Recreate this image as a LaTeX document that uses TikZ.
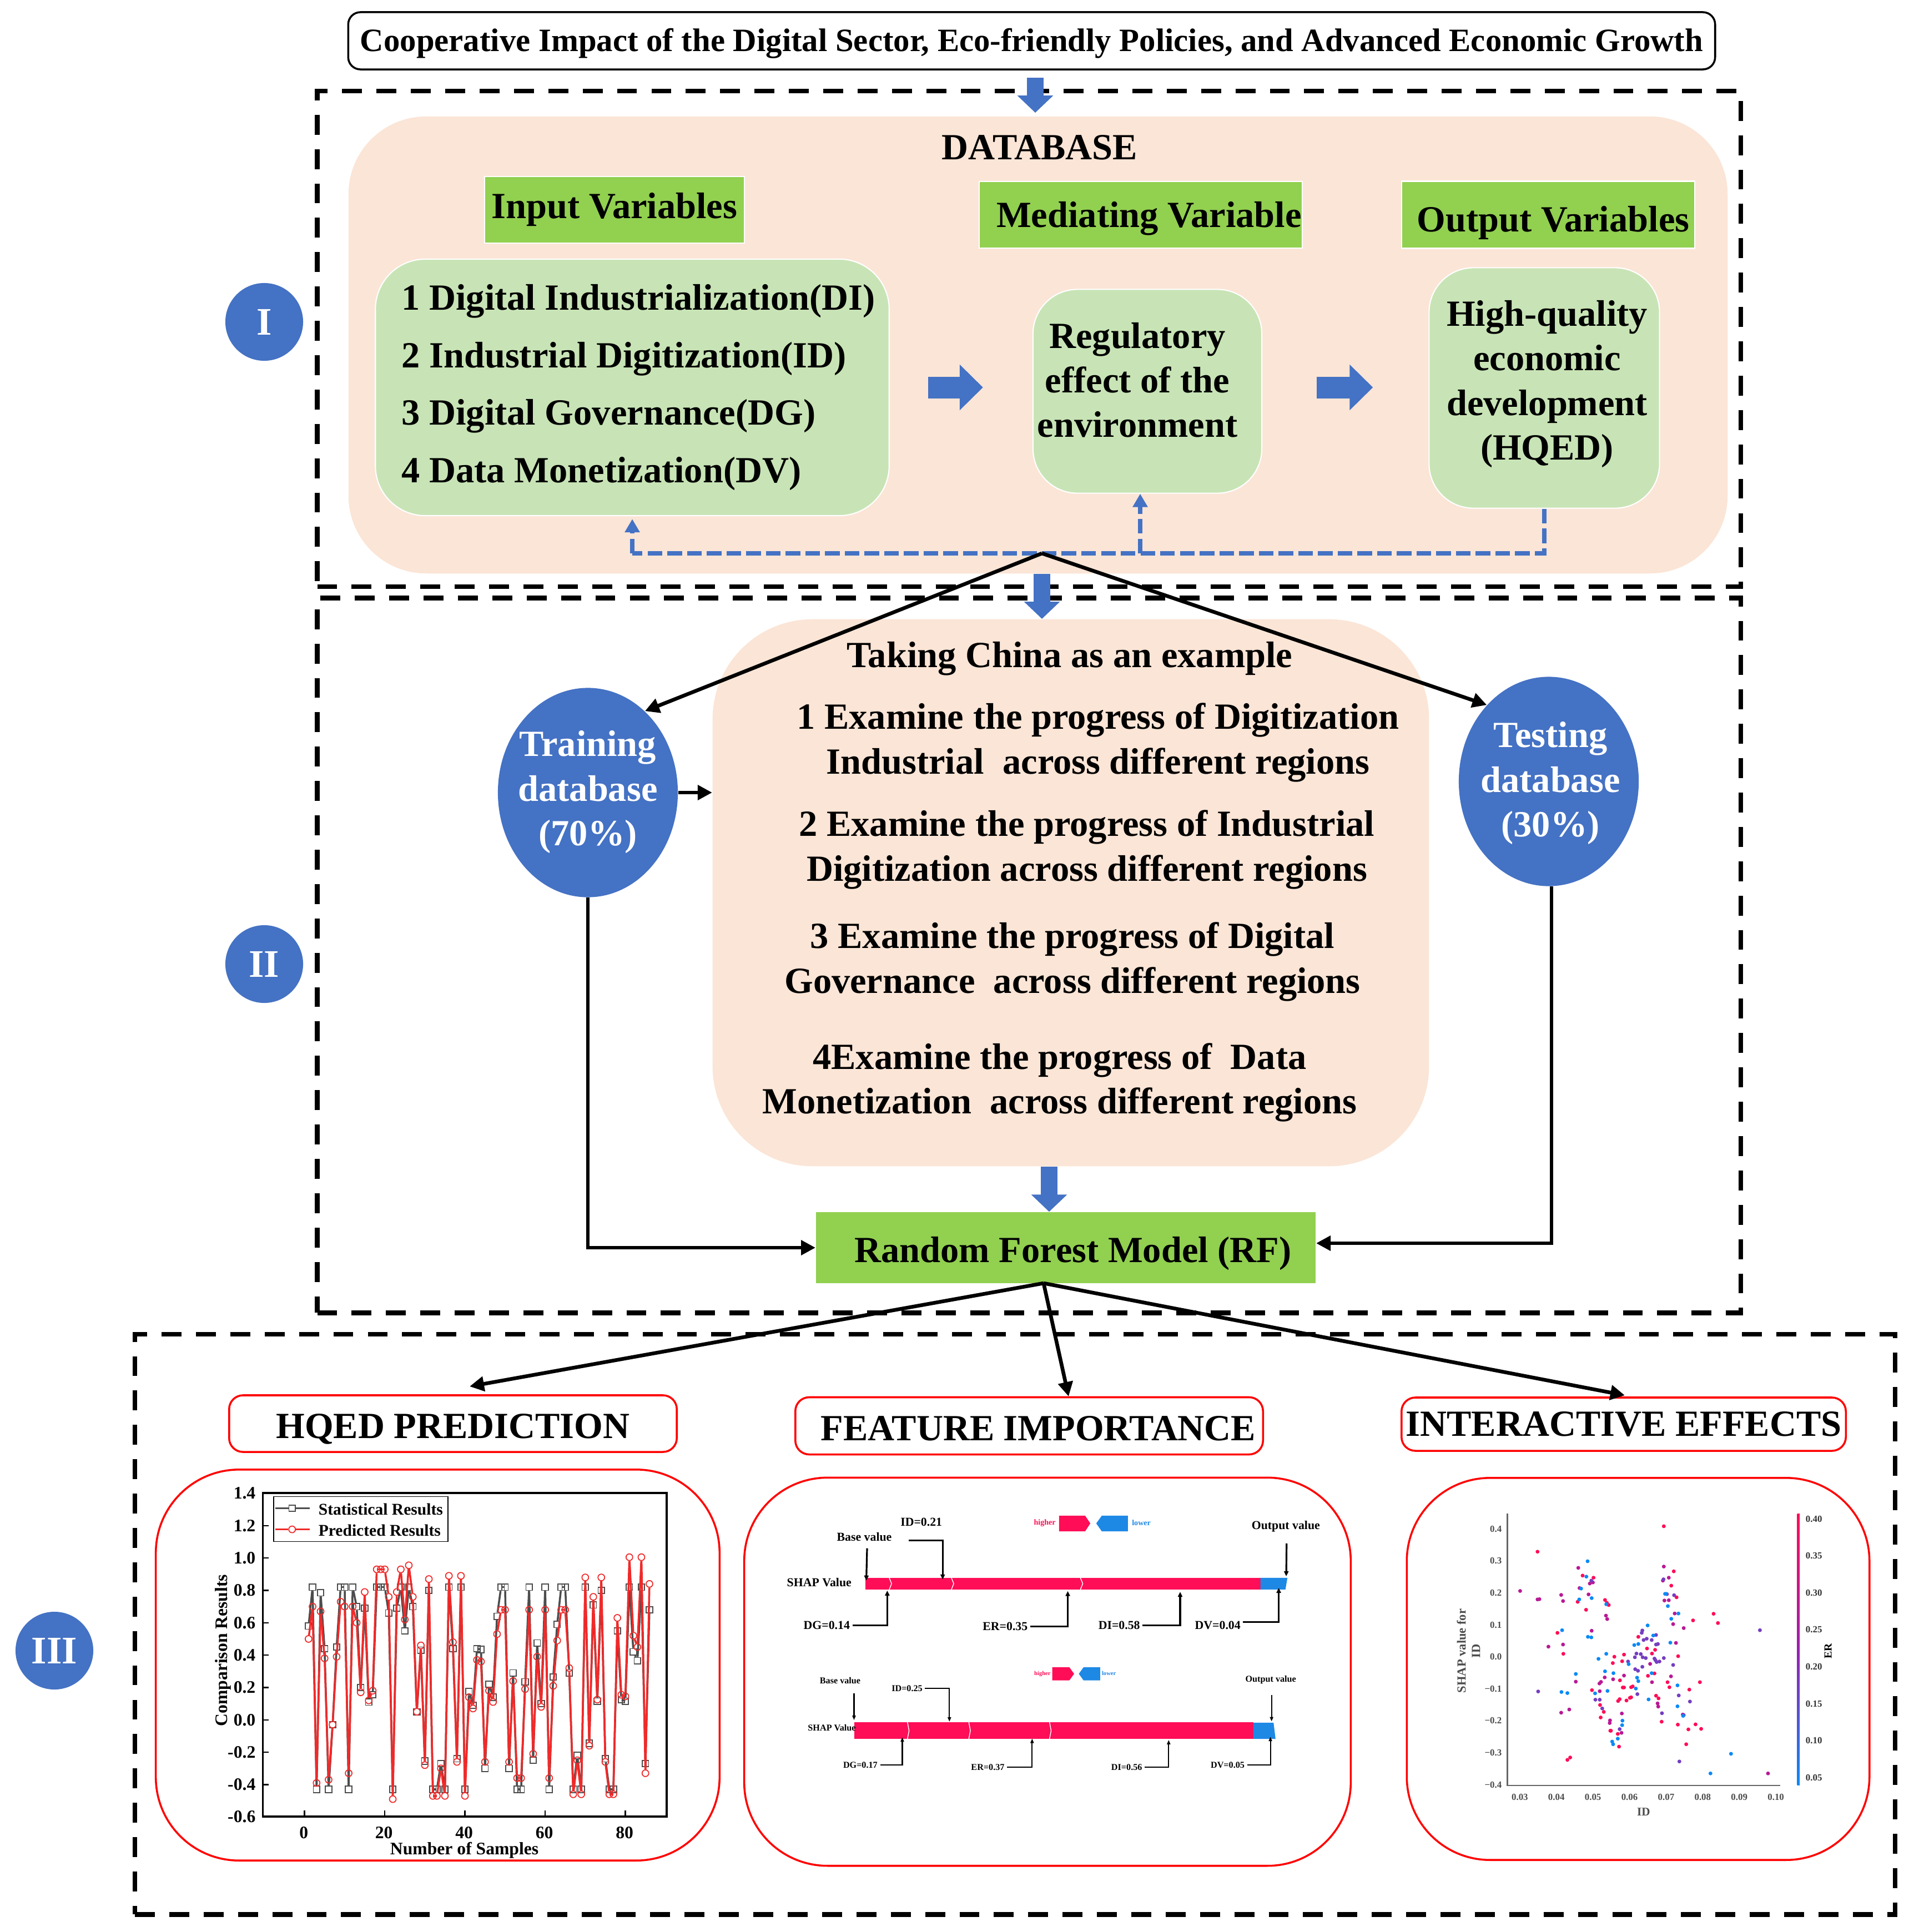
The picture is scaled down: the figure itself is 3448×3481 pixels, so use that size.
\documentclass[tikz,border=0pt]{standalone}
\usepackage{fontspec}
\setmainfont{Liberation Serif}
\usetikzlibrary{arrows.meta,shapes.geometric}

\definecolor{peach}{HTML}{FBE5D6}
\definecolor{leaf}{HTML}{C8E4B6}
\definecolor{grass}{HTML}{92D050}
\definecolor{office}{HTML}{4472C4}
\definecolor{shapred}{HTML}{FF0D57}
\definecolor{shapblue}{HTML}{1E88E5}
\definecolor{dotblue}{HTML}{0A8AF5}
\definecolor{midpurple}{HTML}{9A1FB0}
\definecolor{chartred}{HTML}{F02A2A}

\newcommand{\bigbf}{\fontsize{18.9pt}{22.8pt}\selectfont\bfseries}

\tikzset{
  frame/.style={draw,line width=2.4pt,dash pattern=on 10.2pt off 7.4pt,inner sep=0},
  peachbox/.style={fill=peach,rounded corners=1.4cm,inner sep=0},
  greenhead/.style={fill=grass,draw=white,line width=.6pt,inner sep=0,font=\bigbf},
  leafbox/.style={fill=leaf,draw=white,line width=.6pt,inner sep=0,font=\bigbf},
  lbl/.style={inner sep=0,font=\bigbf,align=center},
  blob/.style={ellipse,fill=office,inner sep=0},
  tag/.style={circle,fill=office,text=white,inner sep=0,minimum size=1.4cm,font=\fontsize{20pt}{20pt}\selectfont\bfseries},
  redhead/.style={draw=red,line width=1pt,rounded corners=.25cm,inner sep=0,font=\bigbf},
  panel/.style={draw=red,line width=1pt,rounded corners=1.5cm,inner sep=0},
  lowtext/.style={text height=.6cm,text depth=.08cm},
  blockarrow/.style={office,line width=.3cm,-{Triangle[length=.31cm,width=.63cm]}},
  widearrow/.style={office,line width=.39cm,-{Triangle[length=.42cm,width=.8cm]}},
  blackarrow/.style={line width=1.9pt,-{Triangle[length=.26cm,width=.26cm]}},
  bluedash/.style={office,line width=2.4pt,dash pattern=on 7.5pt off 2.6pt},
  bluetip/.style={bluedash,-{Triangle[length=.24cm,width=.26cm]}},
  statmark/.style={draw=black!70,line width=.5pt,inner sep=0,minimum size=.115cm},
  predmark/.style={circle,draw=chartred,line width=.5pt,inner sep=0,minimum size=.12cm},
  chartfont/.style={inner sep=0,font=\fontsize{9pt}{9pt}\selectfont\bfseries},
  shaplbl/.style={inner sep=0,font=\fontsize{6.2pt}{7pt}\selectfont\bfseries},
  shapsmall/.style={inner sep=0,font=\fontsize{4.6pt}{5pt}\selectfont\bfseries},
  shaparrow/.style={line width=.9pt,-{Triangle[length=.09cm,width=.08cm]}},
  shapthin/.style={line width=.6pt,-{Triangle[length=.08cm,width=.06cm]}},
  scatfont/.style={inner sep=0,text=black!70,font=\fontsize{4.8pt}{5pt}\selectfont\bfseries},
}

\begin{document}
\begin{tikzpicture}[x=.01cm,y=-.01cm]
  \useasboundingbox (0,0) rectangle (3448,3481);

  \node[draw,line width=1pt,rounded corners=.22cm,minimum width=24.61cm,minimum height=1.03cm,inner sep=0,text height=.5cm,text depth=.13cm,font=\fontsize{16.7pt}{18pt}\selectfont\bfseries] (title) at (1858.5,73.5) {Cooperative Impact of the Digital Sector, Eco-friendly Policies, and Advanced Economic Growth};

  \node[frame,minimum width=25.63cm,minimum height=8.93cm] (frameI) at (1853.8,610.5) {};
  \node[frame,minimum width=25.63cm,minimum height=12.87cm] (frameII) at (1853.8,1721.5) {};
  \node[frame,minimum width=31.69cm,minimum height=10.45cm] (frameIII) at (1828.5,2926.5) {};

  \node[tag] (tagI) at (476,580) {I};
  \node[tag] (tagII) at (476,1737) {II};
  \node[tag] (tagIII) at (98,2974) {III};

  % section I
  \node[peachbox,minimum width=24.83cm,minimum height=8.23cm] (db) at (1870,621.5) {};
  \node[lbl] (dbtext) at (1873,266) {DATABASE};

  \node[greenhead,minimum width=4.68cm,minimum height=1.2cm] (inhead) at (1107,378) {Input Variables};
  \node[greenhead,minimum width=5.81cm,minimum height=1.2cm,text height=.55cm,text depth=.1cm] (medhead) at (2055,387) {\hspace{.3cm}Mediating Variable};
  \node[greenhead,minimum width=5.28cm,minimum height=1.21cm] (outhead) at (2789,387) {};
  \node[lbl] (outtext) at (2798,402) {Output Variables};

  \node[leafbox,rounded corners=.9cm,minimum width=9.25cm,minimum height=4.62cm,align=left] (inbox) at (1139,698)
    {\hspace*{.22cm}1 Digital Industrialization(DI)\\[6.7pt]\hspace*{.22cm}2 Industrial Digitization(ID)\\[6.7pt]\hspace*{.22cm}3 Digital Governance(DG)\\[6.7pt]\hspace*{.22cm}4 Data Monetization(DV)};
  \node[leafbox,rounded corners=.8cm,minimum width=4.12cm,minimum height=3.67cm] (medbox) at (2067,705) {};
  \node[lbl] (medtext) at (2049,685) {Regulatory\\effect of the\\environment};
  \node[leafbox,rounded corners=.8cm,minimum width=4.15cm,minimum height=4.33cm] (outbox) at (2782,699) {};
  \node[lbl] (outlines) at (2787,692) {High-quality\\economic\\development\\(HQED)};

  \coordinate (dbapex) at (1877,997);

  \draw[widearrow,shorten <=.69cm,shorten >=.89cm] (inbox.east) -- (inbox.east -| medbox.west);
  \draw[widearrow,shorten <=.98cm,shorten >=1cm] (medbox.east |- inbox.east) -- (outbox.west |- inbox.east);

  \draw[bluedash] (outbox.south) -- (outbox.south |- dbapex) -- (inbox.south |- dbapex);
  \draw[bluetip] (inbox.south |- dbapex) -- ([yshift=-.05cm]inbox.south);
  \draw[bluetip] ([xshift=-.13cm]medbox.south |- dbapex) -- ([xshift=-.13cm]medbox.south);

  % section II
  \node[peachbox,rounded corners=1.8cm,minimum width=12.9cm,minimum height=9.85cm] (china) at (1929,1608.5) {};
  \node[lbl] (chinahead) at (1927,1187) {Taking China as an example};
  \node[lbl] (step1) at (1978,1338) {1 Examine the progress of Digitization\\Industrial\ \ across different regions};
  \node[lbl] (step2) at (1958,1531) {2 Examine the progress of Industrial\\Digitization across different regions};
  \node[lbl] (step3) at (1932,1733) {3 Examine the progress of Digital\\Governance\ \ across different regions};
  \node[lbl] (step4) at (1909,1950) {4Examine the progress of\ \ Data\\Monetization\ \ across different regions};

  \node[blob,minimum width=3.24cm,minimum height=3.77cm] (train) at (1059,1428) {};
  \node[lbl,text=white] (traintext) at (1059,1427) {Training\\database\\(70\%)};
  \node[blob,minimum width=3.24cm,minimum height=3.77cm] (test) at (2790,1408) {};
  \node[lbl,text=white] (testtext) at (2793,1411) {Testing\\database\\(30\%)};

  \node[fill=grass,minimum width=9cm,minimum height=1.28cm,inner sep=0,lowtext,font=\bigbf] (rf) at (1920,2248) {\hspace{.26cm}Random Forest Model (RF)};
  \coordinate (rfapex) at (1880,2312);

  \foreach \to in {train.55,test.129}
    \draw[blackarrow] (dbapex) -- (\to);
  \draw[blackarrow] (train.east) -- (train.east -| china.west);
  \draw[blackarrow] (train.south) |- (rf.west);
  \draw[blackarrow] ([xshift=.05cm]test.south) |- ([yshift=.08cm]rf.east);

  \draw[blockarrow,shorten <=.13cm,shorten >=.06cm] ([xshift=-.05cm]title.south -| db.north) -- ([xshift=-.05cm]db.north);
  \draw[blockarrow] (dbapex |- db.south) -- (dbapex |- china.north);
  \draw[blockarrow] ([xshift=-.3cm]rf.north |- china.south) -- ([xshift=-.3cm]rf.north);

  % section III
  \node[redhead,minimum width=8.06cm,minimum height=1.02cm,lowtext] (hqed) at (816,2565) {HQED PREDICTION};
  \node[redhead,minimum width=8.42cm,minimum height=1.03cm,lowtext] (feat) at (1854,2569) {\hspace{.33cm}FEATURE IMPORTANCE};
  \node[redhead,minimum width=8cm,minimum height=.96cm] (inter) at (2925,2566) {INTERACTIVE EFFECTS};

  \coordinate (hqedtop) at (846,2498);
  \coordinate (feattop) at (1925,2516);
  \coordinate (intertop) at (2927,2514);
  \foreach \to in {hqedtop,feattop,intertop}
    \draw[blackarrow] (rfapex) -- (\to);

  \node[panel,minimum width=10.15cm,minimum height=7.04cm] (panelA) at (788.5,3000) {};
  \node[panel,minimum width=10.92cm,minimum height=6.99cm] (panelB) at (1887,3012) {};
  \node[panel,minimum width=8.33cm,minimum height=6.88cm] (panelC) at (2951,3007) {};

  % line chart, in the units of its own crop
  \begin{scope}[shift={(249.4,2601)},x=.006997cm,y=-.005084cm]
    \draw[line width=1pt] (320,175) rectangle (1358,1322);
    \foreach \v in {1.4,1.2,1.0,0.8,0.6,0.4,0.2,0.0,-0.2,-0.4,-0.6}
      \draw[line width=.7pt] (320,{979-573.5*\v}) -- (335,{979-573.5*\v});
    \foreach \v in {0,20,40,60,80}
      \draw[line width=.7pt] ({427+10.31*\v},1322) -- ({427+10.31*\v},1300);
    \foreach \v/\n in {1.4/a,1.2/b,1.0/c,0.8/d,0.6/e,0.4/f,0.2/g,0.0/h,-0.2/i,-0.4/j,-0.6/k}
      \node[chartfont,anchor=east] (cy\n) at (302,{979-573.5*\v}) {\v};
    \foreach \v in {0,20,40,60,80}
      \node[chartfont] (cx\v) at ({425+10.31*\v},1380) {\v};
    \node[chartfont,rotate=90] (cylabel) at (218,733) {Comparison Results};
    \node[chartfont] (cxlabel) at (838,1441) {Number of Samples};

    \def\statvals{0.58,0.82,-0.43,0.785,0.44,-0.43,-0.03,0.45,0.82,0.82,-0.43,0.82,0.70,0.20,0.69,0.11,0.155,0.82,0.82,0.82,0.66,-0.43,0.69,0.82,0.55,0.82,0.70,0.05,0.43,-0.255,0.80,-0.43,-0.43,-0.27,-0.43,0.82,0.44,-0.24,0.82,-0.43,0.175,0.09,0.44,0.435,-0.30,0.22,0.14,0.64,0.82,0.82,-0.30,0.29,-0.43,-0.43,0.235,0.82,-0.25,0.475,0.10,0.82,-0.43,0.265,0.59,0.82,0.82,0.29,-0.43,-0.22,-0.43,0.82,-0.145,0.71,0.115,0.80,-0.24,-0.43,-0.43,0.55,0.125,0.115,0.82,0.42,0.365,0.82,-0.27,0.68}
    \def\predvals{0.50,0.70,-0.39,0.67,0.38,-0.37,-0.03,0.39,0.73,0.70,-0.33,0.70,0.60,0.17,0.79,0.12,0.18,0.93,0.93,0.93,0.76,-0.49,0.79,0.93,0.62,0.955,0.76,0.05,0.46,-0.28,0.87,-0.47,-0.47,-0.30,-0.47,0.89,0.48,-0.26,0.89,-0.47,0.14,0.07,0.37,0.36,-0.26,0.18,0.11,0.53,0.68,0.68,-0.26,0.24,-0.36,-0.36,0.19,0.68,-0.21,0.39,0.08,0.68,-0.36,0.21,0.49,0.68,0.68,0.32,-0.46,-0.25,-0.46,0.88,-0.16,0.76,0.125,0.88,-0.26,-0.46,-0.46,0.63,0.155,0.145,1.005,0.52,0.45,1.005,-0.33,0.84}

    \foreach \v [count=\i] in \statvals
      \node[statmark] (s\i) at ({427+10.31*\i},{979-573.5*\v}) {};
    \foreach \i [remember=\i as \j (initially 1)] in {2,...,86}
      \draw[black!70,line width=1pt] (s\j) -- (s\i);
    \foreach \v [count=\i] in \predvals
      \node[predmark] (p\i) at ({427+10.31*\i},{979-573.5*\v}) {};
    \foreach \i [remember=\i as \j (initially 1)] in {2,...,86}
      \draw[chartred,line width=1pt] (p\j) -- (p\i);

    \node[draw,fill=white,line width=.5pt,minimum width=3.14cm,minimum height=.81cm,inner sep=0] (legend) at (571.5,267.5) {};
    \coordinate (lsa) at (352,229); \coordinate (lsb) at (440,229);
    \coordinate (lpa) at (352,304); \coordinate (lpb) at (440,304);
    \node[statmark] (lsm) at (395,229) {};
    \node[predmark] (lpm) at (395,304) {};
    \foreach \from/\to in {lsa/lsm,lsm/lsb}
      \draw[black!70,line width=.8pt] (\from) -- (\to);
    \foreach \from/\to in {lpa/lpm,lpm/lpb}
      \draw[chartred,line width=.8pt] (\from) -- (\to);
    \node[chartfont,anchor=west,font=\fontsize{8.4pt}{8pt}\selectfont\bfseries] (lst) at (462,232) {Statistical Results};
    \node[chartfont,anchor=west,font=\fontsize{8.4pt}{8pt}\selectfont\bfseries] (lpt) at (462,307) {Predicted Results};
  \end{scope}

  % force plots
  \begin{scope}[shift={(1341.7,2651.4)},x=.00712cm,y=-.004768cm]
    \fill[shapred] (305,402) rectangle (1303,446);
    \fill[shapblue] (1303,402) -- (1371,402) -- (1366,446) -- (1303,446) -- cycle;
    \foreach \x in {365,522,848}
      \draw[white,line width=.4pt] (\x,402) -- ({\x+6},424) -- (\x,446);
    \fill[shapred] (794,167) -- (860,167) -- (873,196) -- (860,226) -- (794,226) -- cycle;
    \fill[shapblue] (968,167) -- (902,167) -- (888,196) -- (902,226) -- (968,226) -- cycle;
    \node[inner sep=0,text=shapred,font=\fontsize{4pt}{4pt}\selectfont\bfseries] (hia) at (758,195) {higher};
    \node[inner sep=0,text=shapblue,font=\fontsize{4pt}{4pt}\selectfont\bfseries] (loa) at (1002,193) {lower};

    \node[shaplbl] (ida) at (446,192) {ID=0.21};
    \node[shaplbl] (basea) at (302,248) {Base value};
    \node[shaplbl] (shapa) at (188,420) {SHAP Value};
    \node[shaplbl] (outa) at (1367,208) {Output value};
    \node[shaplbl] (dga) at (207,582) {DG=0.14};
    \node[shaplbl] (era) at (658,586) {ER=0.35};
    \node[shaplbl] (dia) at (946,582) {DI=0.58};
    \node[shaplbl] (dva) at (1195,582) {DV=0.04};
    \coordinate (idas) at (414,260);
    \coordinate (baseas) at (309,290);
    \coordinate (outas) at (1369,272);
    \coordinate (idat) at (500,408);
    \coordinate (baseat) at (307,412);
    \coordinate (outat) at (1368,396);
    \coordinate (dgat) at (360,450);
    \coordinate (erat) at (816,452);
    \coordinate (diat) at (1100,455);
    \coordinate (dvat) at (1349,440);
    \foreach \from/\to in {baseas/baseat,outas/outat}
      \draw[shaparrow] (\from) -- (\to);
    \draw[shaparrow] (idas) -| (idat);
    \foreach \from/\to in {dga/dgat,era/erat,dia/diat}
      \draw[shaparrow] ([xshift=.04cm]\from.east) -| (\to);
    \draw[shaparrow] ([xshift=.04cm,yshift=.06cm]dva.east) -| (dvat);

    \fill[shapred] (277,948) rectangle (1285,1011);
    \fill[shapblue] (1285,950) -- (1336,950) -- (1341,1011) -- (1285,1011) -- cycle;
    \foreach \x in {411,566,770}
      \draw[white,line width=.4pt] (\x,948) -- ({\x+4},980) -- (\x,1011);
    \fill[shapred] (777,740) -- (820,740) -- (832,765) -- (820,790) -- (777,790) -- cycle;
    \fill[shapblue] (898,740) -- (856,740) -- (844,765) -- (856,790) -- (898,790) -- cycle;
    \node[inner sep=0,text=shapred,font=\fontsize{3pt}{3pt}\selectfont\bfseries] (hib) at (752,765) {higher};
    \node[inner sep=0,text=shapblue,font=\fontsize{3pt}{3pt}\selectfont\bfseries] (lob) at (920,763) {lower};

    \node[shapsmall] (idb) at (410,820) {ID=0.25};
    \node[shapsmall] (baseb) at (241,790) {Base value};
    \node[shapsmall] (shapb) at (220,970) {SHAP Value};
    \node[shapsmall] (outb) at (1329,788) {Output value};
    \node[shapsmall] (dgb) at (292,1110) {DG=0.17};
    \node[shapsmall] (erb) at (614,1118) {ER=0.37};
    \node[shapsmall] (dib) at (965,1118) {DI=0.56};
    \node[shapsmall] (dvb) at (1220,1110) {DV=0.05};
    \coordinate (basebs) at (276,838);
    \coordinate (outbs) at (1331,845);
    \coordinate (idbt) at (517,946);
    \coordinate (basebt) at (276,940);
    \coordinate (outbt) at (1331,945);
    \coordinate (dgbt) at (398,1005);
    \coordinate (erbt) at (726,1010);
    \coordinate (dibt) at (1071,1015);
    \coordinate (dvbt) at (1328,1003);
    \foreach \from/\to in {basebs/basebt,outbs/outbt}
      \draw[shapthin] (\from) -- (\to);
    \foreach \from/\to in {idb/idbt,dgb/dgbt,erb/erbt,dib/dibt,dvb/dvbt}
      \draw[shapthin] ([xshift=.04cm]\from.east) -| (\to);
  \end{scope}

  % scatter plot
  \begin{scope}[shift={(2521,2650.5)},x=.005598cm,y=-.004773cm]
    \draw[black!60,line width=.7pt] (347,160) -- (347,1185) -- (1225,1185);
    \foreach \t [count=\i] in {0.4,0.3,0.2,0.1,0.0,−0.1,−0.2,−0.3,−0.4}
      \node[scatfont,anchor=east] (sy\i) at (330,{218+120.6*(\i-1)}) {\t};
    \foreach \t [count=\i] in {0.03,0.04,0.05,0.06,0.07,0.08,0.09,0.10}
      \node[scatfont] (sx\i) at ({387+117.6*(\i-1)},1230) {\t};
    \node[scatfont,font=\fontsize{6pt}{6pt}\selectfont\bfseries] (sxlabel) at (785,1285) {ID};
    \node[scatfont,rotate=90,align=center,font=\fontsize{6.4pt}{7.4pt}\selectfont\bfseries] (sylabel) at (222,678) {SHAP value for\\ID};
    \node[inner sep=0,rotate=90,font=\fontsize{5.6pt}{6pt}\selectfont\bfseries] (erlabel) at (1378,678) {ER};
    \shade[bottom color=dotblue,top color=shapred,middle color=midpurple] (1279,162) rectangle (1287,1185);
    \foreach \t [count=\i] in {0.40,0.35,0.30,0.25,0.20,0.15,0.10,0.05}
      \node[scatfont,anchor=west,text=black!80] (cb\i) at (1305,{180+139.4*(\i-1)}) {\t};

    \foreach \x/\y in {444/304,850/208,882/378,589/394,624/402,874/432,891/476,661/486,673/505,667/497,600/523,573/493,1010/538,1024/573,944/563,508/610,527/689,768/625,796/669,822/674,812/688,722/692,691/700,686/724,716/717,896/698,799/772,820/763,709/789,862/796,966/796,619/826,932/824,722/816,718/816,750/812,745/815,741/855,745/853,730/865,708/860,703/867,825/847,833/857,647/929,657/908,645/882,843/945,895/956,952/955,970/972,702/991,706/1039,922/1030,540/1089,549/1080,678/979,680/979,929/974,868/815}
      \fill[shapred] (\x,\y) circle[x radius=6.2,y radius=7.2];
    \foreach \x/\y in {575/365,850/360,608/465,579/441,612/424,622/420,618/602,526/490,664/545,668/558,914/592,880/577,885/537,526/654,479/662,520/467,388/452,444/484,450/483,567/794,660/778,648/795,687/785,722/771,643/801,644/830,866/487,852/488,847/413,860/464,866/402,520/911,546/899,889/648,715/914,714/987,830/876,832/888,873/774,806/727,812/796,677/940,676/950,1185/1140,911/918}
      \fill[midpurple!70!shapred] (\x,\y) circle[x radius=6.2,y radius=7.2];
    \foreach \x/\y in {883/468,849/408,785/637,795/632,811/637,825/618,825/654,781/601,779/610,757/702,762/688,776/690,782/702,792/705,850/705,820/707,836/718,827/720,880/731,781/738,758/747,767/753,735/718,898/846,934/869,630/862,644/862,652/895,844/913,914/920,708/973,900/1095,1159/600,765/841,446/831,617/413,831/652,823/713}
      \fill[midpurple!70!shapblue] (\x,\y) circle[x radius=6.2,y radius=7.2];
    \foreach \x/\y in {605/340,601/398,584/443,578/484,618/479,665/502,863/509,854/463,858/463,897/537,874/557,798/582,523/600,606/625,617/627,755/656,768/652,816/620,871/647,665/689,640/708,737/728,661/755,688/762,567/765,811/762,764/779,768/792,669/829,760/820,629/838,540/837,521/833,894/808,801/861,894/887,912/923,717/941,716/958,684/1020,687/1030,702/1009,1000/1140,1066/1066}
      \fill[dotblue] (\x,\y) circle[x radius=6.2,y radius=7.2];
  \end{scope}
\end{tikzpicture}
\end{document}
